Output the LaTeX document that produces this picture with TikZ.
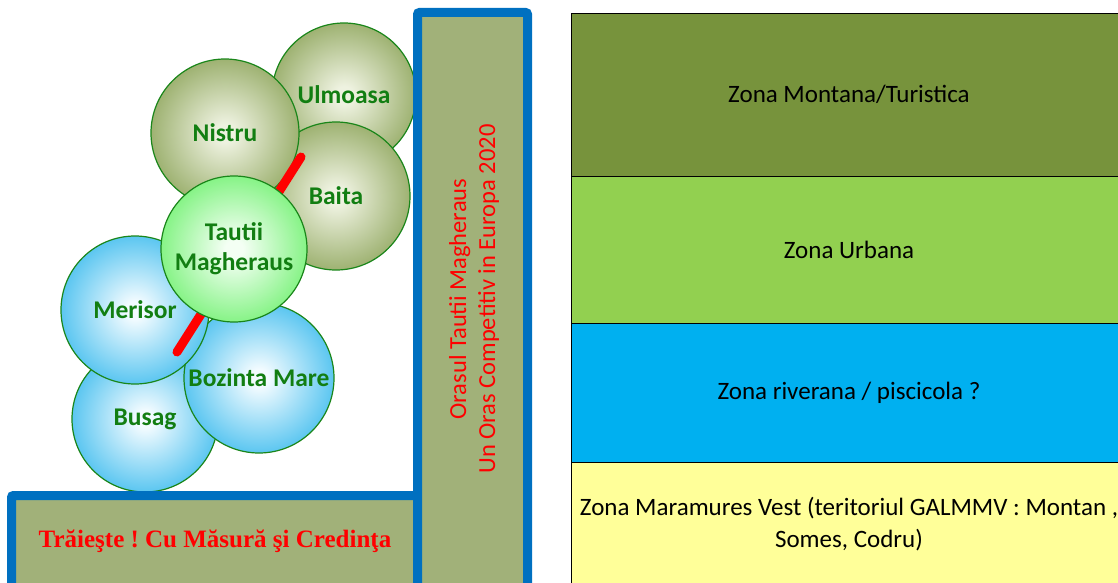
\documentclass[tikz,border=0pt]{standalone}
\usepackage{fontspec}
\setmainfont{Carlito}
\newfontfamily\sloganfont{Liberation Serif}
\frenchspacing

% palette
\definecolor{olvIn}{HTML}{EEF2E0}
\definecolor{olvOut}{HTML}{7A9540}
\definecolor{limeIn}{HTML}{F4FFF4}
\definecolor{limeOut}{HTML}{55EE55}
\definecolor{skyIn}{HTML}{F2FBFF}
\definecolor{skyOut}{HTML}{17AEEA}
\definecolor{orbLine}{HTML}{1A861A}
\definecolor{orbText}{HTML}{127E12}
\definecolor{frameBlue}{HTML}{0070C0}
\definecolor{barFill}{HTML}{A1B179}
\definecolor{zoneA}{HTML}{77933C}
\definecolor{zoneB}{HTML}{92D050}
\definecolor{zoneC}{HTML}{00B0F0}
\definecolor{zoneD}{HTML}{FFFF99}
\definecolor{sloganRed}{HTML}{FF0000}

% radial fills for the village discs (edge of the disc sits near 35bp)
\pgfdeclareradialshading{oliveorb}{\pgfpoint{0bp}{0bp}}{color(0bp)=(olvIn); color(3bp)=(olvIn); color(35bp)=(olvOut); color(50bp)=(olvOut)}
\pgfdeclareradialshading{limeorb}{\pgfpoint{0bp}{0bp}}{color(0bp)=(limeIn); color(3bp)=(limeIn); color(35bp)=(limeOut); color(50bp)=(limeOut)}
\pgfdeclareradialshading{skyorb}{\pgfpoint{0bp}{0bp}}{color(0bp)=(skyIn); color(3bp)=(skyIn); color(35bp)=(skyOut); color(50bp)=(skyOut)}

\tikzset{
  orb/.style={circle, draw=orbLine, line width=1.2pt, inner sep=0pt,
    minimum size=#1, text=orbText, align=center,
    font=\bfseries\fontsize{25.5}{30}\selectfont},
  orbOlive/.style={shade, shading=oliveorb},
  orbLime/.style={shade, shading=limeorb},
  orbSky/.style={shade, shading=skyorb},
  redbar/.style={draw=red, line width=9pt, line cap=round},
  framebar/.style={draw=frameBlue, line width=9pt, fill=barFill,
    rounded corners=2pt, inner sep=0pt},
  zone/.style={draw=black, line width=0.9pt, minimum width=556pt,
    inner sep=0pt, align=center, font=\fontsize{25}{32}\selectfont},
}

\begin{document}
\begin{tikzpicture}[x=1pt,y=-1pt]
\useasboundingbox (0,0) rectangle (1118,583);
\clip (0,0) rectangle (1118,583);
\fill[white] (0,0) rectangle (1118,583);

% village discs, back to front
\node[orb=144, orbOlive] (ulm) at (344,95) {Ulmoasa};
\node[orb=148, orbOlive] (bai) at (336,196) {Baita};
\node[orb=148, orbOlive] (nis) at (225,133) {Nistru};
\node[orb=146, orbSky] (bus) at (145,419) {Busag};
\node[orb=150, orbSky] (boz) at (259,378) {Bozinta Mare};
\node[orb=148, orbSky] (mer) at (135,310) {Merisor};

% red link running under the town disc
\coordinate (rtop) at (301,157);
\coordinate (rbot) at (177,352);
\draw[redbar] (rtop) -- (rbot);

\node[orb=146, orbLime] (tau) at (234,249) {Tautii\\Magheraus};

% L-shaped frame
\node[framebar, minimum width=406pt, minimum height=104.5pt] (hbar) at (214.5,547.75) {};
\node[framebar, minimum width=110pt, minimum height=587.5pt] (vbar) at (472.5,306.25) {};
\node[text=sloganRed, font=\sloganfont\bfseries\fontsize{25}{30}\selectfont] (slogan) at (215,541)
  {Trăieşte ! Cu Măsură şi Credinţa};
\node[rotate=90, text=sloganRed, align=center, font=\fontsize{24.5}{29}\selectfont] (motto) at (474,299)
  {Orasul Tautii Magheraus\\Un Oras Competitiv in Europa 2020};

% development zones
\node[zone, fill=zoneA, minimum height=163pt] (z1) at (849,94.5) {Zona Montana/Turistica};
\node[zone, fill=zoneB, minimum height=147pt] (z2) at (849,249.5) {Zona Urbana};
\node[zone, fill=zoneC, minimum height=139pt] (z3) at (849,392.5) {Zona riverana / piscicola ?};
\node[zone, fill=zoneD, minimum height=125pt] (z4) at (849,524.5)
  {Zona Maramures Vest (teritoriul GALMMV : Montan ,\\Somes, Codru)};
\end{tikzpicture}
\end{document}
